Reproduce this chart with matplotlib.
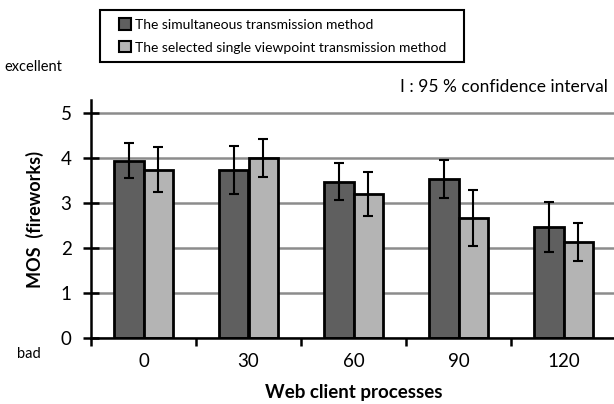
import numpy as np
import matplotlib
matplotlib.use("Agg")
import matplotlib.pyplot as plt
from matplotlib.patches import Patch, Rectangle

plt.rcParams['font.family'] = ['Lato', 'DejaVu Sans']

# -------- data --------
categories = ["0", "30", "60", "90", "120"]
series_names = ["The simultaneous transmission method",
                "The selected single viewpoint transmission method"]
simul = [3.93, 3.73, 3.47, 3.54, 2.47]
simul_lo = [3.55, 3.21, 3.06, 3.12, 1.91]
simul_hi = [4.33, 4.27, 3.88, 3.95, 3.03]
single = [3.73, 4.00, 3.21, 2.67, 2.13]
single_lo = [3.25, 3.58, 2.72, 2.04, 1.72]
single_hi = [4.24, 4.42, 3.68, 3.29, 2.55]
yticks = [0, 1, 2, 3, 4, 5]

DARK = "#5f5f5f"
LIGHT = "#b4b4b4"
GRID = "#8c8c8c"

fig = plt.figure(figsize=(6.14, 4.04), dpi=100)
ax = fig.add_axes([91/614, 1-338/404, 525/614, 238/404])

x = np.arange(len(categories))
w = 0.285

def errs(v, lo, hi):
    v, lo, hi = map(np.asarray, (v, lo, hi))
    return np.vstack([v - lo, hi - v])

ax.bar(x - w/2, simul, w, color=DARK, edgecolor="black", linewidth=2, zorder=3,
       yerr=errs(simul, simul_lo, simul_hi),
       error_kw=dict(ecolor="black", elinewidth=1.5, capsize=3.5, capthick=1.5, zorder=4))
ax.bar(x + w/2, single, w, color=LIGHT, edgecolor="black", linewidth=2, zorder=3,
       yerr=errs(single, single_lo, single_hi),
       error_kw=dict(ecolor="black", elinewidth=1.5, capsize=3.5, capthick=1.5, zorder=4))

ax.set_xlim(-0.5, len(categories) - 0.5)
ax.set_ylim(0, 5.29)
ax.set_yticks(yticks)
ax.set_yticklabels([str(t) for t in yticks], fontsize=13.5)
ax.yaxis.grid(True, color=GRID, linewidth=1.8, zorder=0)
ax.set_axisbelow(True)

ax.set_xticks(x)
ax.set_xticklabels(categories, fontsize=13.5)
ax.tick_params(axis="x", length=0, pad=11)
ax.set_xticks(np.arange(len(categories) + 1) - 0.5, minor=True)
ax.tick_params(axis="x", which="minor", length=6, width=1.8, direction="out")
ax.tick_params(axis="y", length=12, width=1.8, direction="inout", pad=8)

for s in ["top", "right"]:
    ax.spines[s].set_visible(False)
ax.spines["left"].set_linewidth(1.8)
ax.spines["bottom"].set_linewidth(1.8)
ax.spines["bottom"].set_zorder(5)

ax.set_ylabel("MOS  (fireworks)", fontsize=13, fontweight="bold", labelpad=12)
ax.set_xlabel("Web client processes", fontsize=13.5, fontweight="bold", labelpad=10)

fig.text(4/614, 1-67/404, "excellent", fontsize=10.5, ha="left", va="center")
fig.text(17/614, 1-354/404, "bad", fontsize=10.5, ha="left", va="center")
fig.text(608/614, 1-87/404, "I : 95 % confidence interval", fontsize=12.5,
         ha="right", va="center")

# legend: entries from the library, box drawn to match the reference frame
handles = [Patch(facecolor=DARK, edgecolor="black", linewidth=1.5),
           Patch(facecolor=LIGHT, edgecolor="black", linewidth=1.5)]
leg = fig.legend(handles, series_names, loc="center left",
                 bbox_to_anchor=(119/614, 1-36/404), fontsize=10,
                 frameon=False, handlelength=0.85, handleheight=0.85,
                 handletextpad=0.3, borderpad=0, labelspacing=0.75,
                 borderaxespad=0)
fig.patches.append(Rectangle((100/614, 1-62/404), 364/614, 52/404,
                             transform=fig.transFigure, fill=False,
                             edgecolor="black", linewidth=1.5))

fig.savefig("out.png", dpi=100)
